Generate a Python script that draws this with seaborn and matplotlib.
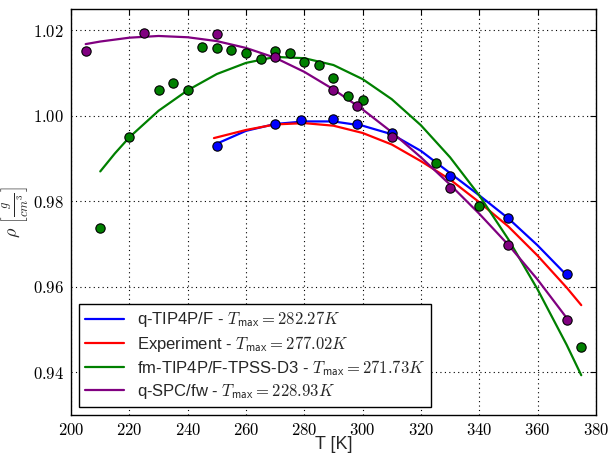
import matplotlib
matplotlib.use('Agg')
import numpy as np
import pandas as pd
import matplotlib.pyplot as plt
import seaborn as sns
from matplotlib.ticker import FuncFormatter

# simulated densities (points)
tip4p_T = [250, 270, 279, 290, 298, 310, 330, 350, 370]
tip4p_rho = [0.9930, 0.9981, 0.9990, 0.9992, 0.9981, 0.9961, 0.9860, 0.9762, 0.9631]

fm_T = [210, 220, 230, 235, 240, 245, 250, 255, 260, 265, 270, 275, 280, 285,
        290, 295, 300, 325, 340, 375]
fm_rho = [0.9737, 0.9950, 1.0060, 1.0076, 1.0060, 1.0162, 1.0158, 1.0155, 1.0146,
          1.0134, 1.0153, 1.0147, 1.0125, 1.0119, 1.0089, 1.0047, 1.0036, 0.9890,
          0.9790, 0.9460]

spc_T = [205, 225, 250, 270, 290, 298, 310, 330, 350, 370]
spc_rho = [1.0153, 1.0194, 1.0192, 1.0138, 1.0060, 1.0022, 0.9950, 0.9832, 0.9698, 0.9523]

# fitted curves
tip4p_fit_T = [250, 260, 270, 280, 290, 300, 310, 320, 330, 340, 350, 360, 371]
tip4p_fit = [0.9935, 0.9965, 0.9981, 0.9987, 0.9987, 0.9977, 0.9957, 0.9918, 0.9866,
             0.9814, 0.9760, 0.9697, 0.9620]

exp_fit_T = [249, 260, 270, 280, 290, 300, 310, 320, 330, 340, 350, 360, 370, 375]
exp_fit = [0.9948, 0.9967, 0.9980, 0.9983, 0.9977, 0.9960, 0.9933, 0.9894, 0.9851,
           0.9798, 0.9741, 0.9673, 0.9598, 0.9557]

fm_fit_T = [210, 215, 220, 230, 240, 250, 260, 270, 280, 290, 300, 310, 320, 330,
            340, 350, 360, 370, 375]
fm_fit = [0.9870, 0.9912, 0.9950, 1.0012, 1.0060, 1.0098, 1.0124, 1.0138, 1.0135,
          1.0119, 1.0086, 1.0039, 0.9978, 0.9903, 0.9814, 0.9711, 0.9594, 0.9464, 0.9393]

spc_fit_T = [205, 210, 220, 230, 240, 250, 260, 270, 280, 290, 300, 310, 320, 330,
             340, 350, 360, 370]
spc_fit = [1.0168, 1.0174, 1.0183, 1.0187, 1.0184, 1.0175, 1.0159, 1.0136, 1.0103,
           1.0062, 1.0015, 0.9962, 0.9903, 0.9839, 0.9771, 0.9698, 0.9617, 0.9527]

labels = [r'q-TIP4P/F - $T_{\mathsf{max}} = 282.27K$',
          r'Experiment - $T_{\mathsf{max}} = 277.02K$',
          r'fm-TIP4P/F-TPSS-D3 - $T_{\mathsf{max}} = 271.73K$',
          r'q-SPC/fw - $T_{\mathsf{max}} = 228.93K$']

sns.set_style('white')
plt.rcParams['font.family'] = ['Liberation Sans', 'DejaVu Sans']
plt.rcParams['mathtext.fontset'] = 'cm'

fig = plt.figure(figsize=(6.13, 4.53), dpi=100)
ax = fig.add_axes([0.116, 0.084, 0.856, 0.896])

curves = [(tip4p_fit_T, tip4p_fit, 'blue'), (exp_fit_T, exp_fit, 'red'),
          (fm_fit_T, fm_fit, 'green'), (spc_fit_T, spc_fit, 'purple')]
for (t, r, c), lab in zip(curves, labels):
    df = pd.DataFrame({'T': t, 'rho': r})
    sns.lineplot(data=df, x='T', y='rho', color=c, lw=1.6, label=lab, ax=ax, sort=False)

points = [(tip4p_T, tip4p_rho, 'blue'), (fm_T, fm_rho, 'green'), (spc_T, spc_rho, 'purple')]
for t, r, c in points:
    df = pd.DataFrame({'T': t, 'rho': r})
    sns.scatterplot(data=df, x='T', y='rho', color=c, s=45, edgecolor='black',
                    linewidth=0.8, legend=False, ax=ax, zorder=3)

ax.set_xlim(200, 380)
ax.set_ylim(0.93, 1.025)
ax.set_xticks(np.arange(200, 381, 20))
ax.set_yticks([0.94, 0.96, 0.98, 1.00, 1.02])
ax.xaxis.set_major_formatter(FuncFormatter(lambda v, p: '$%d$' % v))
ax.yaxis.set_major_formatter(FuncFormatter(lambda v, p: '$%.2f$' % v))
ax.tick_params(direction='in', length=4, width=0.8, top=True, right=True,
               labelsize=12, colors='black', pad=5)
ax.grid(True, color='black', linestyle=(0, (1, 3)), linewidth=0.8)
for s in ax.spines.values():
    s.set_color('black')
    s.set_linewidth(1.0)

ax.set_xlabel('T [K]', fontsize=13)
ax.set_ylabel(r'$\rho\ \left[\frac{g}{cm^3}\right]$', fontsize=13)
ax.xaxis.set_label_coords(0.5, -0.052)
ax.yaxis.set_label_coords(-0.078, 0.5)

leg = ax.legend(loc='lower left', fontsize=12, fancybox=False, framealpha=1,
                edgecolor='black', handlelength=2.3, borderaxespad=0.5,
                labelspacing=0.25, borderpad=0.35)
leg.get_frame().set_linewidth(1.0)

fig.savefig('out.png', dpi=100)
